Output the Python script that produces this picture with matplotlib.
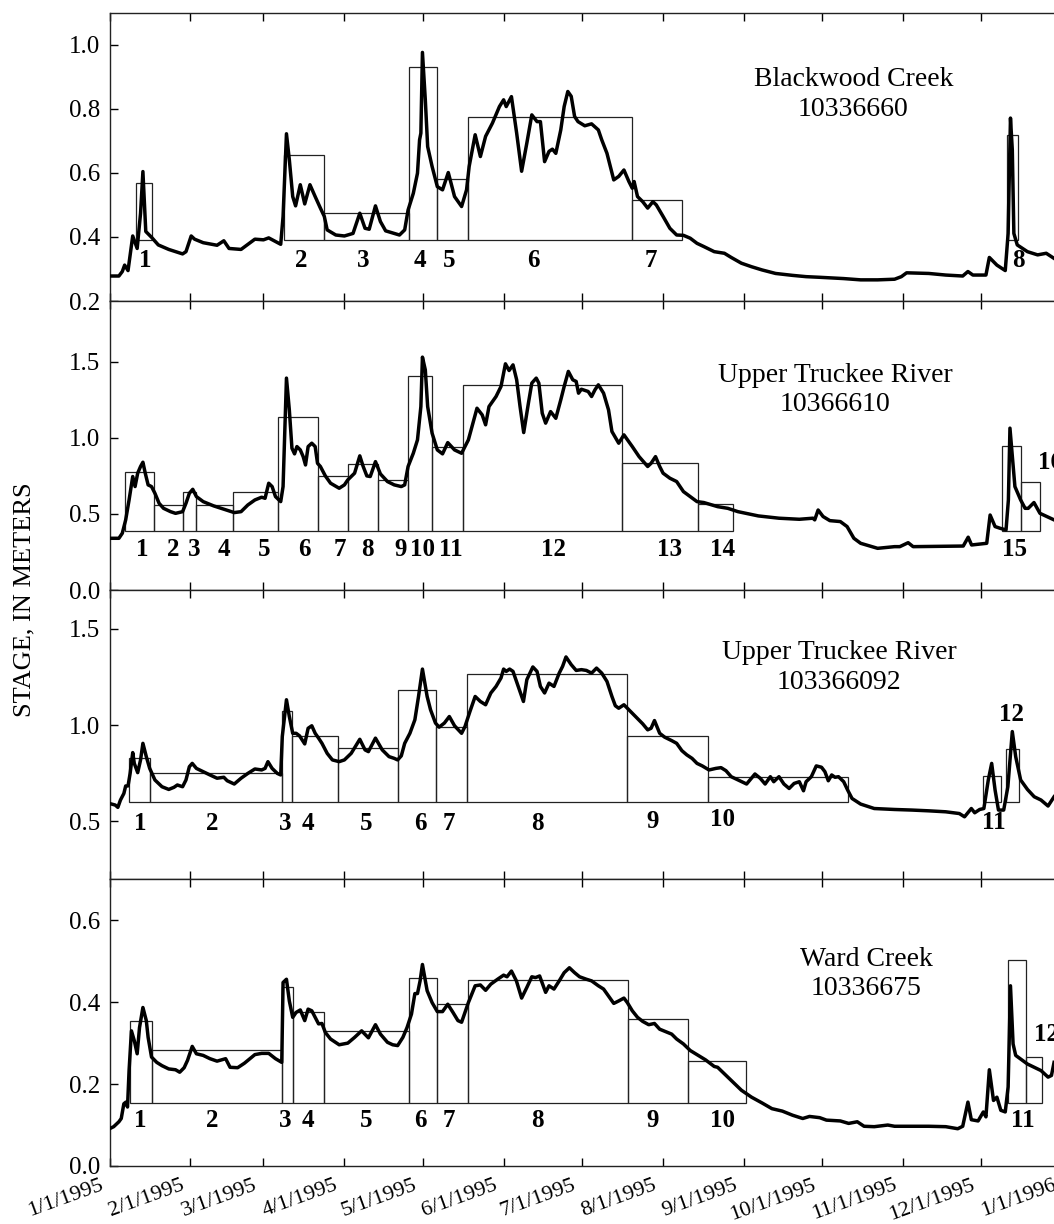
import numpy as np
import matplotlib
matplotlib.use("Agg")
import matplotlib.pyplot as plt
from matplotlib.transforms import ScaledTranslation

plt.rcParams["font.family"] = ["Liberation Serif", "DejaVu Serif"]
plt.rcParams["axes.linewidth"] = 1.0
plt.rcParams["xtick.direction"] = "in"
plt.rcParams["ytick.direction"] = "in"
plt.rcParams["xtick.top"] = True
plt.rcParams["ytick.right"] = True
plt.rcParams["xtick.major.size"] = 5.8
plt.rcParams["ytick.major.size"] = 5.8

# x axis: days since 1/1/1995
month_days = [0, 31, 59, 90, 120, 151, 181, 212, 243, 273, 304, 334, 365]
month_labels = ["1/1/1995", "2/1/1995", "3/1/1995", "4/1/1995", "5/1/1995", "6/1/1995",
                "7/1/1995", "8/1/1995", "9/1/1995", "10/1/1995", "11/1/1995", "12/1/1995",
                "1/1/1996"]

# ---- Blackwood Creek 10336660
bw_day = [0.0, 3.6, 4.9, 5.8, 7.1, 8.9, 10.6, 11.9, 12.8, 13.9, 16.1, 18.7, 22.7, 28.0, 29.3,
          31.3, 32.6, 35.9, 41.2, 43.8, 45.8, 50.4, 55.7, 59.0, 61.0, 65.6, 66.5, 67.8, 68.9,
          70.2, 71.3, 73.1, 74.8, 76.8, 78.8, 80.8, 82.3, 83.4, 86.7, 90.0, 93.3, 95.9, 97.9,
          99.5, 101.9, 103.8, 105.8, 111.1, 113.1, 114.4, 116.4, 118.0, 118.8, 119.3, 119.9,
          121.0, 121.9, 123.6, 125.6, 127.6, 129.8, 132.2, 134.9, 136.8, 137.8, 140.1, 142.1,
          144.1, 146.7, 149.4, 151.0, 152.0, 154.0, 156.0, 157.9, 159.9, 161.8, 163.8, 165.1,
          166.7, 168.4, 169.7, 171.0, 172.9, 174.2, 175.6, 176.9, 178.2, 179.5, 182.1, 184.7,
          187.3, 188.6, 190.6, 193.2, 195.1, 197.1, 199.0, 200.3, 201.0, 202.3, 204.3, 206.2,
          208.2, 209.5, 212.1, 214.7, 217.3, 219.9, 222.5, 225.1, 227.7, 231.7, 235.6, 238.2,
          242.1, 246.0, 250.0, 255.2, 261.7, 266.9, 272.1, 281.3, 287.8, 294.3, 300.8, 303.4,
          305.4, 313.9, 320.4, 326.9, 328.9, 330.8, 335.8, 337.1, 340.0, 343.2, 344.3, 345.2,
          345.9, 346.5, 347.8, 351.7, 355.6, 358.9, 361.9]
bw_stage = [0.278, 0.278, 0.292, 0.312, 0.295, 0.403, 0.364, 0.474, 0.604, 0.417, 0.399, 0.375,
            0.361, 0.347, 0.354, 0.403, 0.393, 0.382, 0.374, 0.388, 0.364, 0.361, 0.393, 0.391,
            0.397, 0.377, 0.464, 0.722, 0.641, 0.526, 0.497, 0.563, 0.503, 0.563, 0.526, 0.490,
            0.464, 0.422, 0.406, 0.403, 0.411, 0.474, 0.427, 0.424, 0.497, 0.448, 0.419, 0.406,
            0.422, 0.484, 0.536, 0.599, 0.703, 0.724, 0.976, 0.828, 0.682, 0.620, 0.557, 0.547,
            0.601, 0.526, 0.495, 0.547, 0.620, 0.719, 0.651, 0.714, 0.755, 0.807, 0.828, 0.807,
            0.838, 0.724, 0.605, 0.693, 0.781, 0.760, 0.760, 0.635, 0.667, 0.674, 0.661, 0.734,
            0.807, 0.854, 0.839, 0.776, 0.760, 0.747, 0.753, 0.734, 0.703, 0.661, 0.578, 0.589,
            0.609, 0.573, 0.552, 0.573, 0.526, 0.510, 0.490, 0.510, 0.500, 0.464, 0.427, 0.406,
            0.405, 0.396, 0.380, 0.370, 0.354, 0.349, 0.336, 0.318, 0.307, 0.297, 0.286, 0.280,
            0.276, 0.274, 0.270, 0.266, 0.266, 0.268, 0.276, 0.288, 0.286, 0.281, 0.278, 0.292,
            0.281, 0.281, 0.336, 0.312, 0.295, 0.411, 0.771, 0.672, 0.411, 0.375, 0.354, 0.344,
            0.349, 0.333]
bw_box_start = [10.2, 67.0, 82.2, 114.8, 125.6, 137.5, 200.1, 344.0]
bw_box_end = [16.1, 82.2, 114.8, 125.6, 137.5, 200.1, 219.3, 348.2]
bw_box_top = [0.569, 0.656, 0.474, 0.932, 0.580, 0.775, 0.515, 0.719]
bw_box_base = 0.391
bw_label_day = [13.7, 73.5, 97.3, 118.8, 130.0, 162.3, 207.3, 348.2]
bw_label_y = [0.325] * 8

# ---- Upper Truckee River 10366610
ut1_day = [0.0, 3.6, 4.9, 6.2, 7.5, 8.9, 9.8, 10.8, 11.9, 12.8, 13.7, 14.8, 16.1, 17.4, 19.0,
           20.7, 23.4, 25.3, 28.0, 29.3, 30.6, 31.9, 33.3, 35.9, 39.9, 43.8, 47.8, 50.4, 53.0,
           55.7, 58.3, 59.6, 61.0, 62.3, 63.6, 65.6, 66.5, 67.8, 68.9, 69.9, 70.9, 71.8, 73.1,
           74.2, 75.1, 76.1, 77.5, 78.8, 79.7, 80.8, 82.7, 84.7, 88.0, 90.0, 91.3, 93.9, 95.9,
           97.2, 98.6, 99.9, 101.9, 103.8, 106.5, 109.1, 111.8, 113.1, 114.4, 116.4, 118.0,
           119.3, 119.9, 121.0, 121.9, 123.6, 125.6, 127.6, 129.6, 132.2, 134.9, 137.5, 140.8,
           142.8, 144.1, 145.4, 148.1, 150.0, 151.7, 153.1, 154.6, 156.0, 157.3, 158.7, 160.5,
           161.8, 163.5, 164.5, 165.8, 167.1, 169.0, 171.0, 172.9, 174.2, 175.8, 177.5, 178.8,
           179.7, 180.8, 183.4, 184.7, 186.0, 187.3, 189.3, 191.2, 192.5, 195.1, 197.1, 200.3,
           202.9, 206.2, 207.5, 209.2, 210.8, 212.1, 214.7, 217.3, 219.9, 222.5, 225.1, 227.7,
           233.0, 236.9, 240.8, 248.6, 256.5, 264.3, 269.5, 270.2, 271.5, 273.4, 276.0, 280.0,
           282.6, 285.2, 287.8, 294.3, 300.8, 302.8, 306.0, 307.9, 327.1, 329.0, 330.3, 336.1,
           337.4, 339.3, 341.2, 343.5, 344.4, 345.0, 345.7, 346.9, 349.1, 350.8, 352.0, 354.2,
           356.5, 361.9]
ut1_stage = [0.340, 0.340, 0.373, 0.461, 0.592, 0.746, 0.680, 0.768, 0.812, 0.840, 0.768, 0.691,
             0.680, 0.636, 0.570, 0.537, 0.515, 0.504, 0.515, 0.570, 0.636, 0.662, 0.614, 0.581,
             0.553, 0.531, 0.509, 0.515, 0.559, 0.592, 0.610, 0.603, 0.702, 0.680, 0.614, 0.581,
             0.680, 1.393, 1.184, 0.932, 0.895, 0.943, 0.921, 0.877, 0.822, 0.943, 0.965, 0.943,
             0.833, 0.812, 0.750, 0.702, 0.669, 0.691, 0.724, 0.768, 0.882, 0.812, 0.750, 0.746,
             0.844, 0.763, 0.713, 0.691, 0.680, 0.691, 0.812, 0.899, 0.987, 1.206, 1.531, 1.447,
             1.206, 1.031, 0.921, 0.895, 0.969, 0.921, 0.899, 0.987, 1.195, 1.151, 1.086, 1.206,
             1.272, 1.338, 1.487, 1.443, 1.480, 1.382, 1.206, 1.035, 1.228, 1.360, 1.393, 1.360,
             1.162, 1.097, 1.173, 1.129, 1.250, 1.338, 1.437, 1.382, 1.371, 1.294, 1.320, 1.305,
             1.272, 1.316, 1.349, 1.294, 1.184, 1.042, 0.965, 1.020, 0.943, 0.877, 0.812, 0.833,
             0.877, 0.812, 0.768, 0.735, 0.713, 0.647, 0.614, 0.581, 0.575, 0.548, 0.537, 0.515,
             0.487, 0.472, 0.465, 0.472, 0.461, 0.526, 0.483, 0.456, 0.450, 0.417, 0.340, 0.307,
             0.274, 0.285, 0.285, 0.311, 0.285, 0.289, 0.347, 0.296, 0.307, 0.493, 0.417, 0.406,
             0.395, 0.592, 1.064, 0.921, 0.680, 0.592, 0.537, 0.537, 0.575, 0.504, 0.461]
ut1_box_start = [5.9, 17.2, 28.2, 33.3, 47.5, 64.5, 80.0, 91.3, 102.8, 114.4, 123.4, 135.4,
                 196.4, 225.3, 341.8, 349.1]
ut1_box_end = [17.2, 28.2, 33.3, 47.5, 64.5, 80.0, 91.3, 102.8, 114.4, 123.4, 135.4, 196.4,
               225.3, 238.7, 349.1, 356.5]
ut1_box_top = [0.774, 0.559, 0.647, 0.559, 0.643, 1.136, 0.752, 0.829, 0.722, 1.410, 0.939,
               1.351, 0.836, 0.568, 0.949, 0.708]
ut1_box_base = 0.391
ut1_label_day = [12.5, 24.4, 32.3, 43.8, 59.4, 74.8, 88.4, 98.9, 111.5, 120.1, 130.9, 170.3,
                 214.7, 234.9, 346.9, 360.4]
ut1_label_y = [0.263] * 15 + [0.838]

# ---- Upper Truckee River 103366092
ut2_day = [0.0, 2.2, 3.2, 4.2, 5.5, 6.2, 7.1, 7.9, 8.9, 9.5, 10.8, 11.9, 12.8, 14.1, 15.4,
           17.4, 20.1, 22.7, 24.7, 26.0, 28.0, 29.3, 30.6, 31.7, 33.3, 35.9, 38.5, 41.2, 43.8,
           45.1, 47.8, 50.4, 53.0, 55.7, 58.3, 59.6, 60.7, 62.3, 64.3, 65.6, 66.2, 67.8, 68.9,
           70.2, 71.5, 72.8, 74.8, 76.1, 77.5, 78.8, 80.1, 81.4, 83.4, 85.4, 88.0, 90.0, 92.6,
           95.9, 97.9, 99.2, 101.9, 104.5, 107.1, 109.1, 110.4, 111.8, 113.1, 115.1, 117.0,
           118.4, 119.9, 121.7, 123.0, 124.9, 126.3, 128.3, 130.2, 132.2, 134.9, 136.2, 138.1,
           140.1, 142.1, 144.1, 146.1, 148.1, 150.0, 151.0, 152.0, 153.3, 154.6, 156.6, 158.6,
           159.9, 162.2, 163.8, 165.1, 166.7, 168.4, 170.3, 172.3, 173.6, 174.9, 176.9, 178.8,
           180.8, 182.7, 184.7, 186.6, 188.6, 190.6, 192.5, 193.8, 195.1, 197.1, 199.0, 201.6,
           204.3, 206.2, 207.5, 208.8, 210.8, 212.7, 215.4, 217.3, 219.3, 221.2, 223.2, 225.1,
           227.1, 229.7, 232.3, 234.3, 236.2, 238.2, 240.8, 244.1, 247.3, 249.3, 251.2, 253.2,
           254.5, 256.5, 258.4, 260.4, 262.3, 264.3, 265.9, 266.9, 268.9, 270.8, 272.8, 274.1,
           275.4, 276.7, 278.0, 279.3, 281.3, 282.8, 284.5, 287.8, 293.0, 300.8, 307.4, 313.9,
           320.4, 325.6, 327.6, 330.2, 331.5, 333.4, 335.0, 336.7, 338.0, 339.3, 340.6, 342.6,
           344.2, 345.9, 347.2, 349.1, 351.7, 354.3, 356.9, 359.6, 361.9]
ut2_stage = [0.593, 0.585, 0.573, 0.611, 0.645, 0.684, 0.684, 0.749, 0.857, 0.801, 0.753, 0.819,
             0.905, 0.836, 0.775, 0.715, 0.680, 0.666, 0.677, 0.689, 0.680, 0.715, 0.784, 0.801,
             0.775, 0.758, 0.741, 0.724, 0.729, 0.711, 0.694, 0.724, 0.749, 0.772, 0.767, 0.775,
             0.810, 0.775, 0.749, 0.741, 0.940, 1.131, 1.044, 0.957, 0.957, 0.944, 0.902, 0.983,
             0.996, 0.957, 0.932, 0.905, 0.853, 0.819, 0.810, 0.819, 0.853, 0.926, 0.871, 0.862,
             0.932, 0.871, 0.836, 0.827, 0.819, 0.840, 0.905, 0.957, 1.027, 1.148, 1.290, 1.148,
             1.079, 1.010, 0.989, 1.010, 1.044, 0.996, 0.957, 0.992, 1.070, 1.148, 1.122, 1.105,
             1.166, 1.200, 1.244, 1.290, 1.278, 1.290, 1.278, 1.200, 1.122, 1.235, 1.301, 1.278,
             1.200, 1.166, 1.217, 1.200, 1.269, 1.304, 1.353, 1.313, 1.283, 1.287, 1.283, 1.269,
             1.295, 1.269, 1.226, 1.148, 1.100, 1.087, 1.105, 1.079, 1.044, 1.006, 0.975, 0.983,
             1.023, 0.957, 0.937, 0.919, 0.905, 0.867, 0.845, 0.827, 0.801, 0.788, 0.767, 0.775,
             0.779, 0.763, 0.732, 0.715, 0.694, 0.746, 0.724, 0.694, 0.732, 0.706, 0.732, 0.694,
             0.671, 0.697, 0.706, 0.659, 0.706, 0.732, 0.788, 0.781, 0.758, 0.711, 0.741, 0.729,
             0.732, 0.706, 0.663, 0.619, 0.590, 0.567, 0.562, 0.559, 0.555, 0.550, 0.541, 0.524,
             0.567, 0.545, 0.562, 0.567, 0.715, 0.801, 0.663, 0.559, 0.559, 0.680, 0.966, 0.836,
             0.715, 0.666, 0.628, 0.611, 0.580, 0.628]
ut2_box_start = [7.5, 15.7, 66.0, 69.8, 87.4, 110.7, 125.2, 136.8, 198.4, 229.4, 334.8, 343.5]
ut2_box_end = [15.7, 66.0, 69.8, 87.4, 110.7, 125.2, 136.8, 198.4, 229.4, 282.8, 341.5, 348.5]
ut2_box_top = [0.831, 0.753, 1.074, 0.944, 0.880, 1.183, 0.992, 1.266, 0.944, 0.732, 0.736, 0.878]
ut2_box_base = 0.599
ut2_label_day = [11.8, 39.5, 67.3, 75.9, 98.2, 119.3, 130.2, 163.8, 208.2, 234.7, 338.7, 345.6]
ut2_label_y = [0.49, 0.49, 0.49, 0.49, 0.49, 0.49, 0.49, 0.49, 0.50, 0.51, 0.495, 1.053]

# ---- Ward Creek 10336675
wc_day = [0.0, 1.6, 3.6, 4.5, 5.5, 6.3, 6.9, 7.5, 8.4, 9.5, 10.6, 11.5, 12.8, 14.1, 14.8, 16.1,
          18.1, 20.1, 22.7, 25.3, 26.9, 28.6, 29.9, 31.7, 33.3, 35.9, 38.5, 41.2, 44.5, 46.2,
          49.1, 51.7, 55.7, 58.3, 61.0, 63.6, 66.0, 66.5, 67.8, 68.9, 70.2, 71.5, 73.1, 74.8,
          76.1, 77.5, 78.8, 80.1, 81.4, 82.7, 84.7, 88.0, 91.3, 93.9, 96.6, 99.2, 101.9, 103.8,
          106.5, 108.5, 110.4, 112.4, 114.0, 115.7, 117.0, 118.0, 119.0, 119.9, 121.7, 123.6,
          125.6, 127.6, 129.6, 131.6, 133.5, 134.9, 137.5, 140.1, 142.1, 144.1, 146.1, 148.7,
          151.0, 152.3, 154.0, 155.9, 157.9, 159.9, 161.8, 163.2, 164.8, 167.1, 168.4, 170.3,
          172.3, 174.2, 176.2, 178.2, 180.1, 182.7, 184.7, 187.3, 189.3, 191.2, 193.2, 195.1,
          197.1, 198.4, 200.3, 202.3, 204.3, 206.6, 208.8, 210.8, 212.7, 215.4, 217.3, 219.9,
          222.5, 225.1, 228.4, 231.7, 233.0, 235.6, 238.8, 242.1, 246.0, 250.0, 253.8, 257.8,
          261.7, 265.6, 268.2, 272.1, 274.7, 280.0, 283.2, 286.5, 289.1, 293.0, 298.2, 300.8,
          307.4, 313.9, 320.4, 325.0, 326.9, 328.9, 330.2, 332.8, 334.8, 335.8, 337.1, 338.7,
          340.0, 341.5, 343.2, 344.3, 345.2, 346.2, 347.2, 349.8, 351.7, 354.3, 356.9, 359.6,
          360.9, 361.9]
wc_stage = [0.091, 0.096, 0.108, 0.116, 0.152, 0.156, 0.144, 0.233, 0.330, 0.306, 0.274, 0.338,
            0.387, 0.355, 0.314, 0.266, 0.253, 0.245, 0.237, 0.235, 0.229, 0.240, 0.258, 0.292,
            0.274, 0.270, 0.262, 0.256, 0.262, 0.241, 0.240, 0.251, 0.272, 0.275, 0.275, 0.262,
            0.253, 0.448, 0.456, 0.403, 0.363, 0.375, 0.381, 0.355, 0.383, 0.379, 0.363, 0.347,
            0.348, 0.326, 0.310, 0.296, 0.300, 0.314, 0.330, 0.313, 0.345, 0.322, 0.302, 0.296,
            0.294, 0.314, 0.338, 0.371, 0.421, 0.421, 0.452, 0.492, 0.428, 0.399, 0.377, 0.377,
            0.395, 0.375, 0.355, 0.351, 0.399, 0.440, 0.442, 0.429, 0.444, 0.456, 0.466, 0.462,
            0.476, 0.452, 0.410, 0.436, 0.462, 0.460, 0.464, 0.424, 0.440, 0.432, 0.452, 0.472,
            0.484, 0.472, 0.462, 0.456, 0.452, 0.440, 0.432, 0.415, 0.397, 0.403, 0.410, 0.399,
            0.379, 0.363, 0.353, 0.345, 0.348, 0.334, 0.329, 0.322, 0.310, 0.298, 0.282, 0.272,
            0.259, 0.243, 0.241, 0.225, 0.205, 0.185, 0.168, 0.154, 0.140, 0.134, 0.124, 0.116,
            0.121, 0.118, 0.112, 0.110, 0.104, 0.108, 0.097, 0.096, 0.100, 0.097, 0.097, 0.097,
            0.096, 0.091, 0.097, 0.156, 0.113, 0.110, 0.132, 0.120, 0.235, 0.160, 0.168, 0.136,
            0.132, 0.193, 0.440, 0.298, 0.270, 0.258, 0.249, 0.241, 0.233, 0.217, 0.221, 0.253]
wc_box_start = [7.8, 16.2, 66.2, 70.2, 82.1, 114.9, 125.6, 137.4, 198.8, 221.7, 344.3, 351.1]
wc_box_end = [16.2, 66.2, 70.2, 82.1, 114.9, 125.6, 137.4, 198.8, 221.7, 243.7, 351.1, 357.3]
wc_box_top = [0.354, 0.284, 0.438, 0.377, 0.329, 0.460, 0.395, 0.453, 0.359, 0.256, 0.504, 0.266]
wc_box_base = 0.155
wc_label_day = [11.8, 39.5, 67.3, 75.9, 98.2, 119.3, 130.2, 163.8, 208.2, 234.7, 349.8, 358.9]
wc_label_y = [0.112] * 11 + [0.322]

panels = [
    dict(name="Blackwood Creek\n10336660", day=bw_day, stage=bw_stage,
         start=bw_box_start, end=bw_box_end, top=bw_box_top, base=bw_box_base,
         lab_x=bw_label_day, lab_y=bw_label_y,
         ylim=(0.2, 1.1), yticks=[0.2, 0.4, 0.6, 0.8, 1.0], name_x=285, name_y=0.715,
         px=(12.7, 301)),
    dict(name="Upper Truckee River\n10366610", day=ut1_day, stage=ut1_stage,
         start=ut1_box_start, end=ut1_box_end, top=ut1_box_top, base=ut1_box_base,
         lab_x=ut1_label_day, lab_y=ut1_label_y,
         ylim=(0.0, 1.9), yticks=[0.0, 0.5, 1.0, 1.5], name_x=278, name_y=0.692,
         px=(301, 590)),
    dict(name="Upper Truckee River\n103366092", day=ut2_day, stage=ut2_stage,
         start=ut2_box_start, end=ut2_box_end, top=ut2_box_top, base=ut2_box_base,
         lab_x=ut2_label_day, lab_y=ut2_label_y,
         ylim=(0.2, 1.7), yticks=[0.5, 1.0, 1.5], name_x=279.5, name_y=0.732,
         px=(590, 879.3)),
    dict(name="Ward Creek\n10336675", day=wc_day, stage=wc_stage,
         start=wc_box_start, end=wc_box_end, top=wc_box_top, base=wc_box_base,
         lab_x=wc_label_day, lab_y=wc_label_y,
         ylim=(0.0, 0.7), yticks=[0.0, 0.2, 0.4, 0.6], name_x=290, name_y=0.670,
         px=(879.3, 1166)),
]

W, H = 1054, 1224
fig = plt.figure(figsize=(W / 100, H / 100), dpi=100)

left_px = 109.5
px_per_day = 2.61

axes = []
for p in panels:
    top_px, bot_px = p["px"]
    ax = fig.add_axes([left_px / W, 1 - bot_px / H, 365 * px_per_day / W, (bot_px - top_px) / H])
    axes.append(ax)

    start = np.array(p["start"])
    end = np.array(p["end"])
    top = np.array(p["top"])
    ax.bar(start, top - p["base"], width=end - start, bottom=p["base"], align="edge",
           fill=False, edgecolor="#222222", linewidth=0.9, zorder=2)
    ax.plot(p["day"], p["stage"], color="black", linewidth=2.5, solid_joinstyle="round", zorder=3)

    for n, (x, y) in enumerate(zip(p["lab_x"], p["lab_y"]), start=1):
        ax.text(x, y, str(n), ha="center", va="center", fontsize=18, fontweight="bold", zorder=4)

    ax.text(p["name_x"], p["name_y"], p["name"], transform=ax.get_xaxis_transform(),
            ha="center", va="center", fontsize=20, linespacing=1.25)

    ax.set_xlim(0, 365)
    ax.set_ylim(*p["ylim"])
    ax.set_yticks(p["yticks"])
    ax.set_yticklabels(["%.1f" % v for v in p["yticks"]], fontsize=18)
    ax.set_xticks(month_days)
    ax.tick_params(axis="y", pad=7, width=1.0)
    ax.tick_params(axis="x", width=1.0)
    for s in ax.spines.values():
        s.set_color("#222222")

for ax in axes[:-1]:
    ax.tick_params(axis="x", labelbottom=False)

bottom = axes[-1]
bottom.set_xticklabels(month_labels, fontsize=16, rotation=20, ha="right",
                       rotation_mode="anchor")
bottom.tick_params(axis="x", pad=7)
shift = ScaledTranslation(-10 / 100, 0, fig.dpi_scale_trans)
for lab in bottom.get_xticklabels():
    lab.set_transform(lab.get_transform() + shift)

fig.text(24 / W, 1 - 600 / H, "STAGE, IN METERS", rotation=90, ha="center", va="center",
         fontsize=19)

fig.savefig("out.png", dpi=100)
